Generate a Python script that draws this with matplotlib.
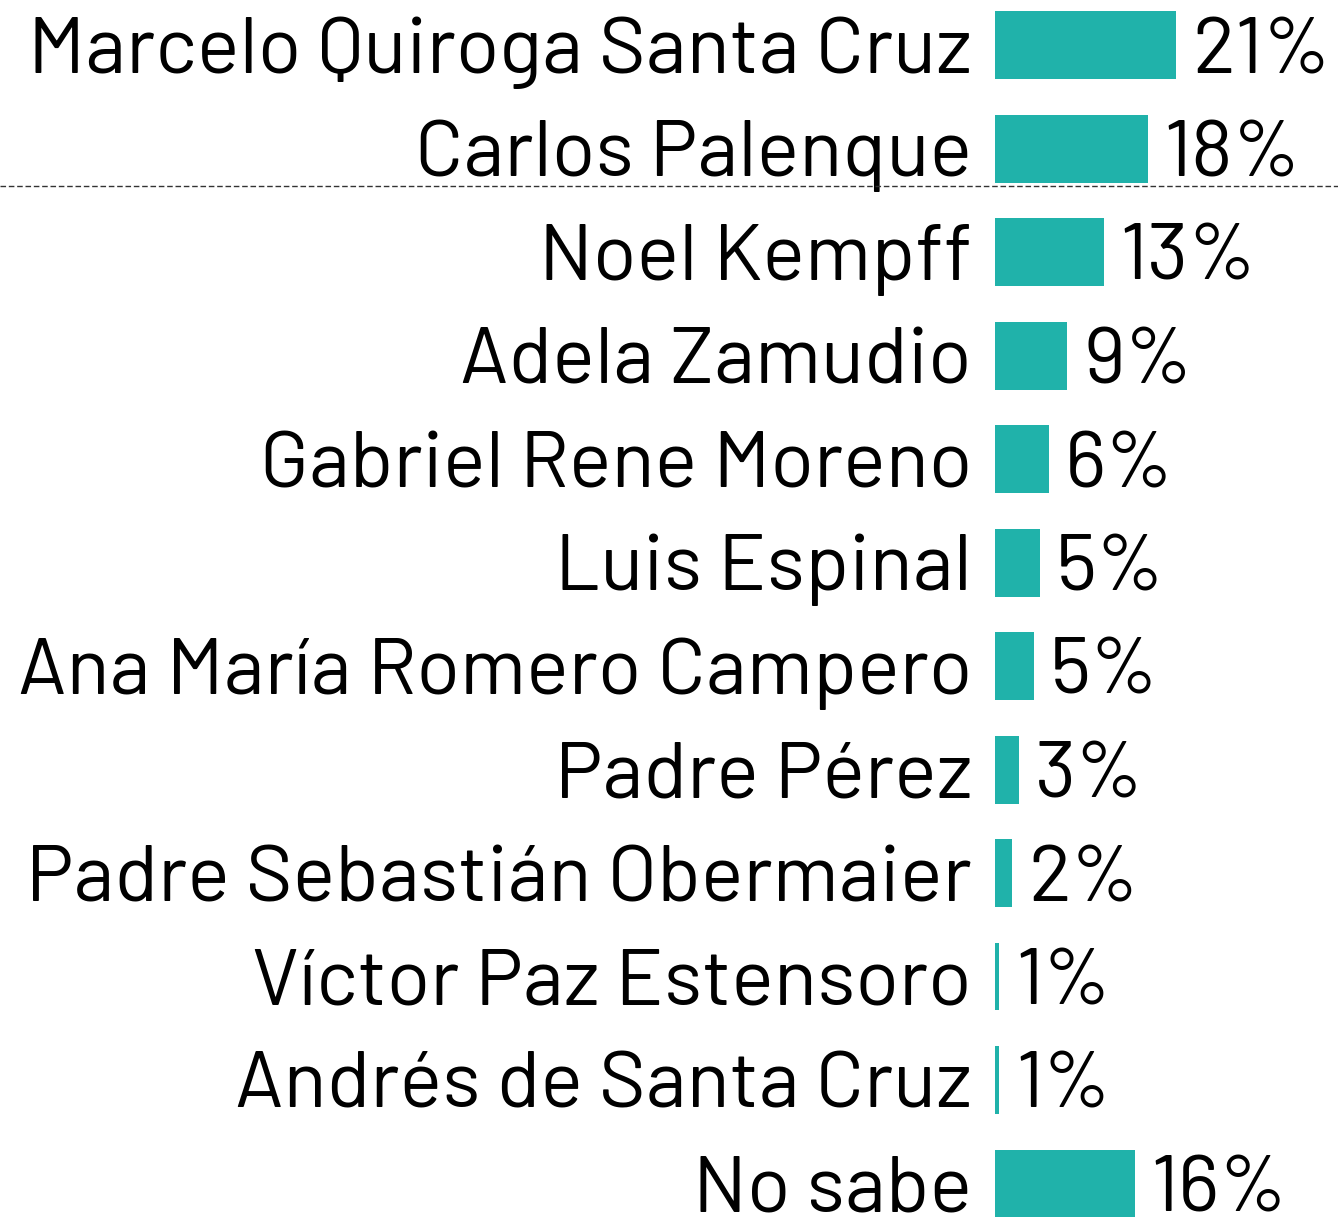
import matplotlib
matplotlib.use("Agg")
import matplotlib.pyplot as plt
from matplotlib.lines import Line2D
from matplotlib import font_manager as fm

names = ["Marcelo Quiroga Santa Cruz", "Carlos Palenque", "Noel Kempff",
         "Adela Zamudio", "Gabriel Rene Moreno", "Luis Espinal",
         "Ana María Romero Campero", "Padre Pérez", "Padre Sebastián Obermaier",
         "Víctor Paz Estensoro", "Andrés de Santa Cruz", "No sabe"]
values = [21.0, 17.7, 12.6, 8.4, 6.2, 5.2, 4.5, 2.8, 2.0, 0.5, 0.5, 16.2]
labels = ["21%", "18%", "13%", "9%", "6%", "5%", "5%", "3%", "2%", "1%", "1%", "16%"]

W, H, DPI = 1338, 1217, 100
fig = plt.figure(figsize=(W / DPI, H / DPI), dpi=DPI)
fig.patch.set_facecolor("white")

avail = {f.name for f in fm.fontManager.ttflist}
family = "Roboto"
for cand in ["Barlow", "Roboto Condensed", "Liberation Sans Narrow", "Roboto"]:
    if cand in avail:
        family = cand
        break

row0, step = 45, 103.5
x0 = 995
px_per_unit = 8.63
ax_w = W - x0
ax = fig.add_axes([x0 / W, 0, ax_w / W, 1])
ax.set_xlim(0, ax_w / px_per_unit)
ax.set_ylim((H - row0) / step, -row0 / step)
ax.axis("off")

color = "#20B2AA"
ypos = list(range(len(names)))
ax.barh(ypos, values, height=68 / step, color=color, edgecolor="none")

# fit font size so longest name spans the target width
fs = 56
renderer = fig.canvas.get_renderer()
t = fig.text(0, 0, "Ana María Romero Campero", fontsize=fs, family=family)
wpx = t.get_window_extent(renderer).width
t.remove()
fs = fs * 955 / wpx

for i, (n, v, lab) in enumerate(zip(names, values, labels)):
    ax.annotate(n, xy=(0, i), xytext=(-23, -28), textcoords="offset pixels",
                ha="right", va="baseline", fontsize=fs, family=family, color="black",
                annotation_clip=False)
    ax.annotate(lab, xy=(v, i), xytext=(16, -28), textcoords="offset pixels",
                ha="left", va="baseline", fontsize=fs, family=family, color="black",
                annotation_clip=False)

ly = 1 - 185.5 / H
fig.add_artist(Line2D([0, 1], [ly, ly], transform=fig.transFigure, color="#333333",
                      linewidth=1.0, linestyle=(0, (4, 2))))

fig.savefig("out.png", dpi=DPI, facecolor="white")
